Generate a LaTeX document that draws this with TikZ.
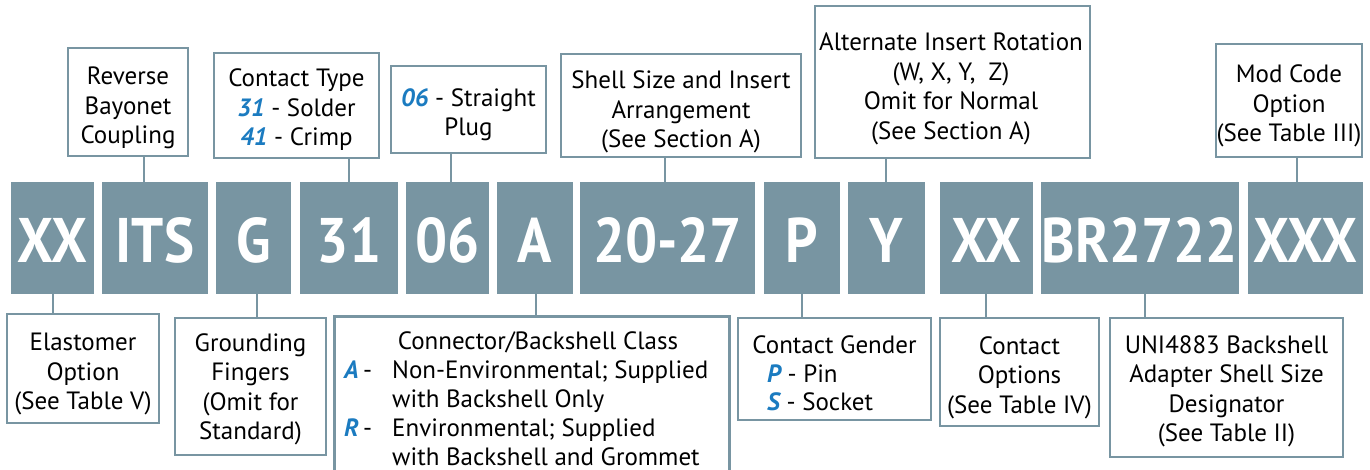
\documentclass[tikz,border=0pt]{standalone}
\usepackage{fontspec}
\setmainfont{PT Sans}
\newfontfamily\barfont[FakeStretch=0.9]{PT Sans}
\definecolor{bargrey}{HTML}{7895A2}
\definecolor{numblue}{HTML}{1B7BC0}
\newcommand{\bn}[1]{\textcolor{numblue}{\bfseries\itshape #1}}
\begin{document}
\begin{tikzpicture}[x=1pt,y=-1pt,
  bar/.style={fill=bargrey, draw=none, inner sep=0pt, text=white, minimum height=112pt,
    text height=48pt, text depth=0pt, font=\barfont\bfseries\fontsize{63}{63}\selectfont},
  lbox/.style={draw=bargrey, line width=2.7pt, inner sep=0pt},
  ltxt/.style={align=center, inner sep=0pt, font=\fontsize{25}{29.5}\selectfont, anchor=north},
  stxt/.style={inner sep=0pt, font=\fontsize{25}{29.5}\selectfont, anchor=base west},
  conn/.style={draw=bargrey, line width=2.7pt},
]
\useasboundingbox (0,0) rectangle (1370,470);

% code bar
\node[bar, minimum width=83pt]  (b1)  at (52.5,238)  {XX};
\node[bar, minimum width=106pt] (b2)  at (155,238)   {ITS};
\node[bar, minimum width=75pt]  (b3)  at (253.5,238) {G};
\node[bar, minimum width=98pt]  (b4)  at (349,238)   {31};
\node[bar, minimum width=83pt]  (b5)  at (447.5,238) {06};
\node[bar, minimum width=76pt]  (b6)  at (535,238)   {A};
\node[bar, minimum width=175pt] (b7)  at (667.5,238) {20-27};
\node[bar, minimum width=76pt]  (b8)  at (802,238)   {P};
\node[bar, minimum width=77pt]  (b9)  at (886.5,238) {Y};
\node[bar, minimum width=93pt]  (b10) at (986.5,238) {XX};
\node[bar, minimum width=198pt] (b11) at (1140,238)  {BR2722};
\node[bar, minimum width=115pt] (b12) at (1305.5,238) {XXX};

% top boxes
\node[lbox, minimum width=120pt, minimum height=108pt] (rev) at (128,102) {};
\node[ltxt] (revt) at (128,67) {Reverse\\Bayonet\\Coupling};
\node[lbox, minimum width=165pt, minimum height=105pt] (ct) at (296.5,105.5) {};
\node[ltxt] (ctt) at (296.5,69) {Contact Type\\\bn{31} - Solder\\\bn{41} - Crimp};
\node[lbox, minimum width=155pt, minimum height=87pt] (sp) at (468.5,109.5) {};
\node[ltxt] (spt) at (468.5,88) {\bn{06} - Straight\\Plug};
\node[lbox, minimum width=240pt, minimum height=103pt] (sh) at (681,105.5) {};
\node[ltxt] (sht) at (681,71) {Shell Size and Insert\\Arrangement\\(See Section A)};
\node[lbox, minimum width=275pt, minimum height=152pt] (alt) at (952.5,82) {};
\node[ltxt] (altt) at (951,33) {Alternate Insert Rotation\\(W, X, Y,\ \ Z)\\Omit for Normal\\(See Section A)};
\node[lbox, minimum width=146pt, minimum height=113pt] (mod) at (1289,100.5) {};
\node[ltxt] (modt) at (1289,65) {Mod Code\\Option\\(See Table III)};

% bottom boxes
\node[lbox, minimum width=152pt, minimum height=109pt] (ela) at (83,368.5) {};
\node[ltxt] (elat) at (83,333) {Elastomer\\Option\\(See Table V)};
\node[lbox, minimum width=151pt, minimum height=137pt] (gro) at (250.5,386.5) {};
\node[ltxt] (grot) at (250.5,333) {Grounding\\Fingers\\(Omit for\\Standard)};
\node[inner sep=0pt, minimum width=394pt, minimum height=160pt] (big) at (532,397) {};
\draw[conn] (big.south west) -- (big.north west) -- (big.north east) -- (big.south east);
\node[ltxt, anchor=base] (bigt) at (538,349) {Connector/Backshell Class};
\node[stxt] (bigA) at (344,378) {\bn{A}};
\node[stxt] (bigAd) at (363,378) {-};
\node[stxt] (bigA1) at (392,378) {Non-Environmental; Supplied};
\node[stxt] (bigA2) at (392,407) {with Backshell Only};
\node[stxt] (bigR) at (344,436) {\bn{R}};
\node[stxt] (bigRd) at (363,436) {-};
\node[stxt] (bigR1) at (392,436) {Environmental; Supplied};
\node[stxt] (bigR2) at (392,465) {with Backshell and Grommet};
\node[lbox, minimum width=193pt, minimum height=102pt] (gen) at (834.5,369) {};
\node[ltxt, anchor=base] (gent) at (834.5,353) {Contact Gender};
\node[stxt] (genP) at (767,382) {\bn{P} - Pin};
\node[stxt] (genS) at (767,410) {\bn{S} - Socket};
\node[lbox, minimum width=159pt, minimum height=108pt] (opt) at (1019.5,372) {};
\node[ltxt] (optt) at (1019.5,336) {Contact\\Options\\(See Table IV)};
\node[lbox, minimum width=233pt, minimum height=139pt] (uni) at (1226.5,387.5) {};
\node[ltxt] (unit) at (1226.5,335) {UNI4883 Backshell\\Adapter Shell Size\\Designator\\(See Table II)};

% connector x positions
\coordinate (x1) at (144,0);
\coordinate (x2) at (349,0);
\coordinate (x3) at (451,0);
\coordinate (x4) at (665,0);
\coordinate (x5) at (886,0);
\coordinate (x6) at (1297,0);
\coordinate (y1) at (53,0);
\coordinate (y2) at (257,0);
\coordinate (y3) at (536,0);
\coordinate (y4) at (802,0);
\coordinate (y5) at (986,0);
\coordinate (y6) at (1145,0);

\draw[conn] (rev.south -| x1) -- (b2.north -| x1);
\draw[conn] (ct.south -| x2) -- (b4.north -| x2);
\draw[conn] (sp.south -| x3) -- (b5.north -| x3);
\draw[conn] (sh.south -| x4) -- (b7.north -| x4);
\draw[conn] (alt.south -| x5) -- (b9.north -| x5);
\draw[conn] (mod.south -| x6) -- (b12.north -| x6);
\draw[conn] (b1.south -| y1) -- (ela.north -| y1);
\draw[conn] (b3.south -| y2) -- (gro.north -| y2);
\draw[conn] (b6.south -| y3) -- (big.north -| y3);
\draw[conn] (b8.south -| y4) -- (gen.north -| y4);
\draw[conn] (b10.south -| y5) -- (opt.north -| y5);
\draw[conn] (b11.south -| y6) -- (uni.north -| y6);
\end{tikzpicture}
\end{document}
